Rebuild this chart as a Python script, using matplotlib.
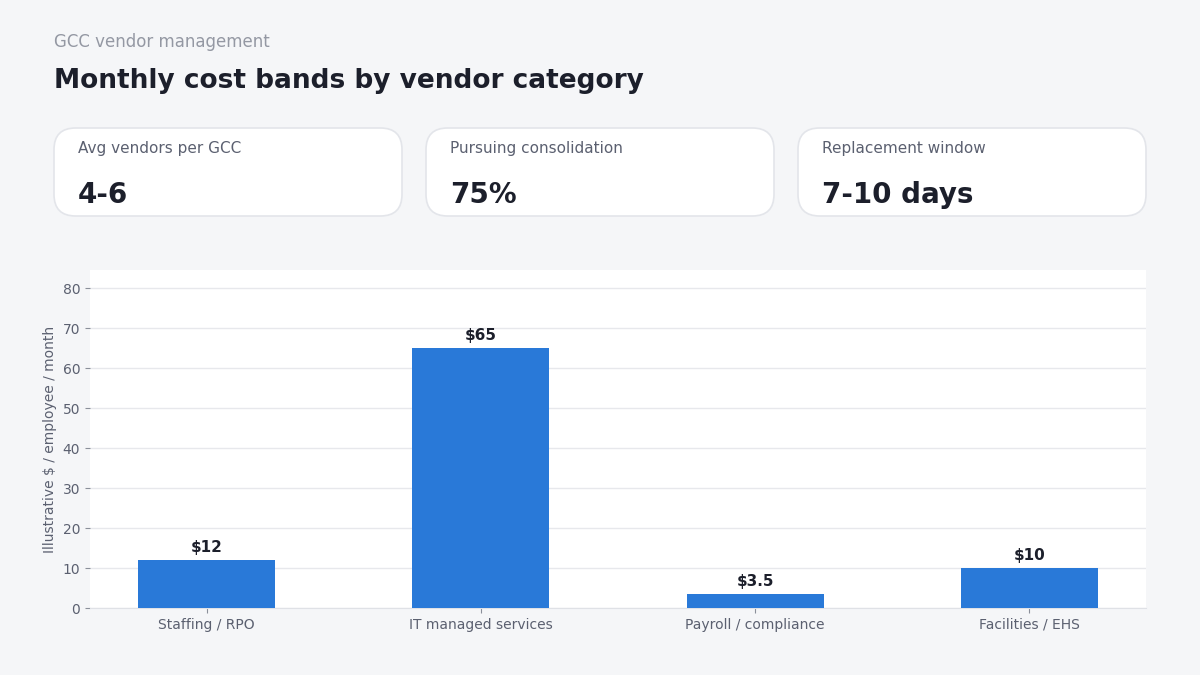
import matplotlib.pyplot as plt
from matplotlib.patches import FancyBboxPatch

categories = ["Staffing / RPO", "IT managed services", "Payroll / compliance", "Facilities / EHS"]
costs = [12, 65, 3.5, 10]
cost_labels = ["$12", "$65", "$3.5", "$10"]

kpi_labels = ["Avg vendors per GCC", "Pursuing consolidation", "Replacement window"]
kpi_values = ["4-6", "75%", "7-10 days"]

BG = "#f5f6f8"
DARK = "#1c1f2b"
MUTED = "#5b6070"
BAR = "#2979d8"
GRID = "#e7e8ec"

fig = plt.figure(figsize=(12, 6.75), dpi=100, facecolor=BG)

fig.text(54 / 1200, 1 - 42 / 675, "GCC vendor management", fontsize=12, color="#9498a3", va="center")
fig.text(54 / 1200, 1 - 81 / 675, "Monthly cost bands by vendor category", fontsize=19,
         fontweight="bold", color=DARK, va="center")

# KPI cards
for i, (lab, val) in enumerate(zip(kpi_labels, kpi_values)):
    x0 = 54 + i * 372
    card = FancyBboxPatch((x0 / 1200, 1 - 216 / 675), 348 / 1200, 88 / 675,
                          boxstyle="round,pad=0,rounding_size=0.018", transform=fig.transFigure,
                          facecolor="white", edgecolor="#e3e5ea", linewidth=1.2,
                          mutation_aspect=1200 / 675)
    fig.patches.append(card)
    fig.text((x0 + 24) / 1200, 1 - 148 / 675, lab, fontsize=11, color=MUTED, va="center")
    fig.text((x0 + 24) / 1200, 1 - 195 / 675, val, fontsize=20, fontweight="bold", color=DARK, va="center")

ax = fig.add_axes([90 / 1200, 1 - 608 / 675, (1146 - 90) / 1200, (608 - 270) / 675])
ax.set_facecolor("white")
x = range(len(categories))
bars = ax.bar(x, costs, width=0.5, color=BAR, zorder=3)
for b, lab in zip(bars, cost_labels):
    ax.annotate(lab, (b.get_x() + b.get_width() / 2, b.get_height()), xytext=(0, 3.5),
                textcoords="offset points", ha="center", va="bottom", fontsize=11,
                fontweight="bold", color=DARK, zorder=4)

ax.set_xticks(list(x))
ax.set_xticklabels(categories)
ax.set_ylim(0, max(costs) * 1.3)
ax.set_yticks(range(0, 90, 10))
ax.set_ylabel("Illustrative $ / employee / month", fontsize=10, color=MUTED)
ax.grid(axis="y", color=GRID, linewidth=1, zorder=0)
ax.set_axisbelow(True)
for s in ["top", "right", "left"]:
    ax.spines[s].set_visible(False)
ax.spines["bottom"].set_color("#dfe1e6")
ax.tick_params(axis="both", colors=MUTED, labelsize=10)
ax.tick_params(axis="both", color="#8a8f9a")

fig.savefig("out.png", dpi=100, facecolor=BG)
